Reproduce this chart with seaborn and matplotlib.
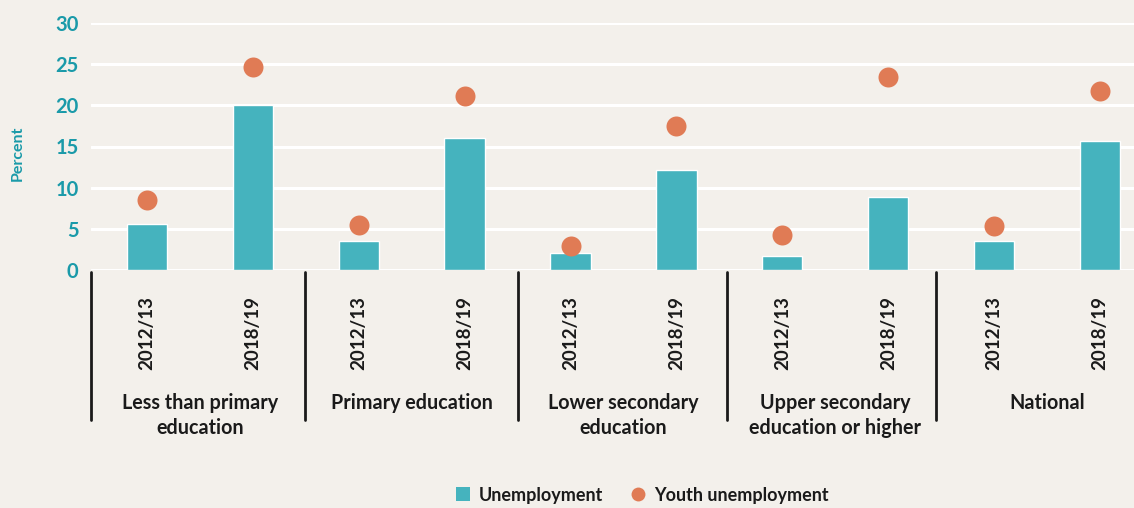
import matplotlib
matplotlib.use("Agg")
import matplotlib.pyplot as plt
import matplotlib.transforms as mtransforms
from matplotlib.lines import Line2D
import pandas as pd
import seaborn as sns

# Data
groups = [
    "Less than primary\neducation",
    "Primary education",
    "Lower secondary\neducation",
    "Upper secondary\neducation or higher",
    "National",
]
years = ["2012/13", "2018/19"]
unemployment = [5.6, 20.0, 3.5, 16.0, 2.1, 12.2, 1.7, 8.9, 3.5, 15.7]
youth_unemployment = [8.5, 24.7, 5.5, 21.1, 2.9, 17.5, 4.3, 23.5, 5.3, 21.8]
y_ticks = [0, 5, 10, 15, 20, 25, 30]

slots = [f"{g} {y}" for g in groups for y in years]
df = pd.DataFrame({
    "slot": slots,
    "year": [y for _ in groups for y in years],
    "Unemployment": unemployment,
    "Youth unemployment": youth_unemployment,
})

BG = "#F3F0EB"
TEAL = "#45B3BE"
ORANGE = "#E07B55"
TICK_TEAL = "#1A9AA9"
INK = "#1A1A1A"

sns.set_theme(style="white")
plt.rcParams["font.family"] = ["Lato", "DejaVu Sans"]
plt.rcParams["font.weight"] = "bold"

W, H = 1134, 508
fig = plt.figure(figsize=(W / 100, H / 100), dpi=100, facecolor=BG)
ax_left, ax_right = 91 / W, 1.0
ax_bottom, ax_top = 1 - 270 / H, 1 - 23 / H
ax = fig.add_axes([ax_left, ax_bottom, ax_right - ax_left, ax_top - ax_bottom])
ax.set_facecolor(BG)

sns.barplot(data=df, x="slot", y="Unemployment", order=slots, color=TEAL,
            width=0.38, saturation=1, ax=ax, zorder=2)
sns.stripplot(data=df, x="slot", y="Youth unemployment", order=slots,
              color=ORANGE, jitter=False, size=14.4, linewidth=0, ax=ax, zorder=3)

ax.set_xlim(-0.527, 9.32)
ax.set_ylim(0, 30)
ax.set_yticks(y_ticks)
ax.set_yticklabels([str(t) for t in y_ticks])
ax.yaxis.grid(True, color="white", linewidth=2.2)
ax.set_axisbelow(True)
for s in ax.spines.values():
    s.set_visible(False)
ax.tick_params(axis="y", length=0, pad=9, labelsize=14.5, labelcolor=TICK_TEAL)
ax.tick_params(axis="x", length=0, pad=19, labelsize=13.5, labelcolor=INK)
ax.set_xticks(range(len(slots)))
ax.set_xticklabels(df["year"], rotation=90)
for lab in ax.get_xticklabels() + ax.get_yticklabels():
    lab.set_fontweight("bold")
ax.set_xlabel("")
ax.set_ylabel("")

# Group separators and group labels below the axis
ax_h_px = 270 - 23
trans = mtransforms.blended_transform_factory(ax.transData, ax.transAxes)
sep_x = [ax.get_xlim()[0] + 0.004, 1.49, 3.5, 5.48, 7.45]
for sx in sep_x:
    ax.add_line(Line2D([sx, sx], [-2 / ax_h_px, -150 / ax_h_px], transform=trans,
                       color=INK, linewidth=2, clip_on=False))
for i, g in enumerate(groups):
    cx = 2 * i + 0.5
    for j, line in enumerate(g.split("\n")):
        ypx = 403 + 25 * j
        ax.text(cx, -(ypx - 270) / ax_h_px, line, transform=trans, ha="center",
                va="center", fontsize=14.2, fontweight="bold", color=INK)

fig.text(18 / W, 1 - 153 / H, "Percent", rotation=90, ha="center", va="center",
         fontsize=11.5, fontweight="bold", color=TICK_TEAL)

handles = [
    Line2D([], [], marker="s", linestyle="none", markersize=10,
           markerfacecolor=TEAL, markeredgewidth=0),
    Line2D([], [], marker="o", linestyle="none", markersize=10,
           markerfacecolor=ORANGE, markeredgewidth=0),
]
leg = fig.legend(handles, ["Unemployment", "Youth unemployment"], loc="center",
                 bbox_to_anchor=(641 / W, 1 - 495 / H), ncol=2, frameon=False,
                 fontsize=13, handletextpad=0.4, columnspacing=1.4, handlelength=1)
for t in leg.get_texts():
    t.set_fontweight("bold")
    t.set_color(INK)

fig.savefig("out.png", dpi=100, facecolor=BG)
